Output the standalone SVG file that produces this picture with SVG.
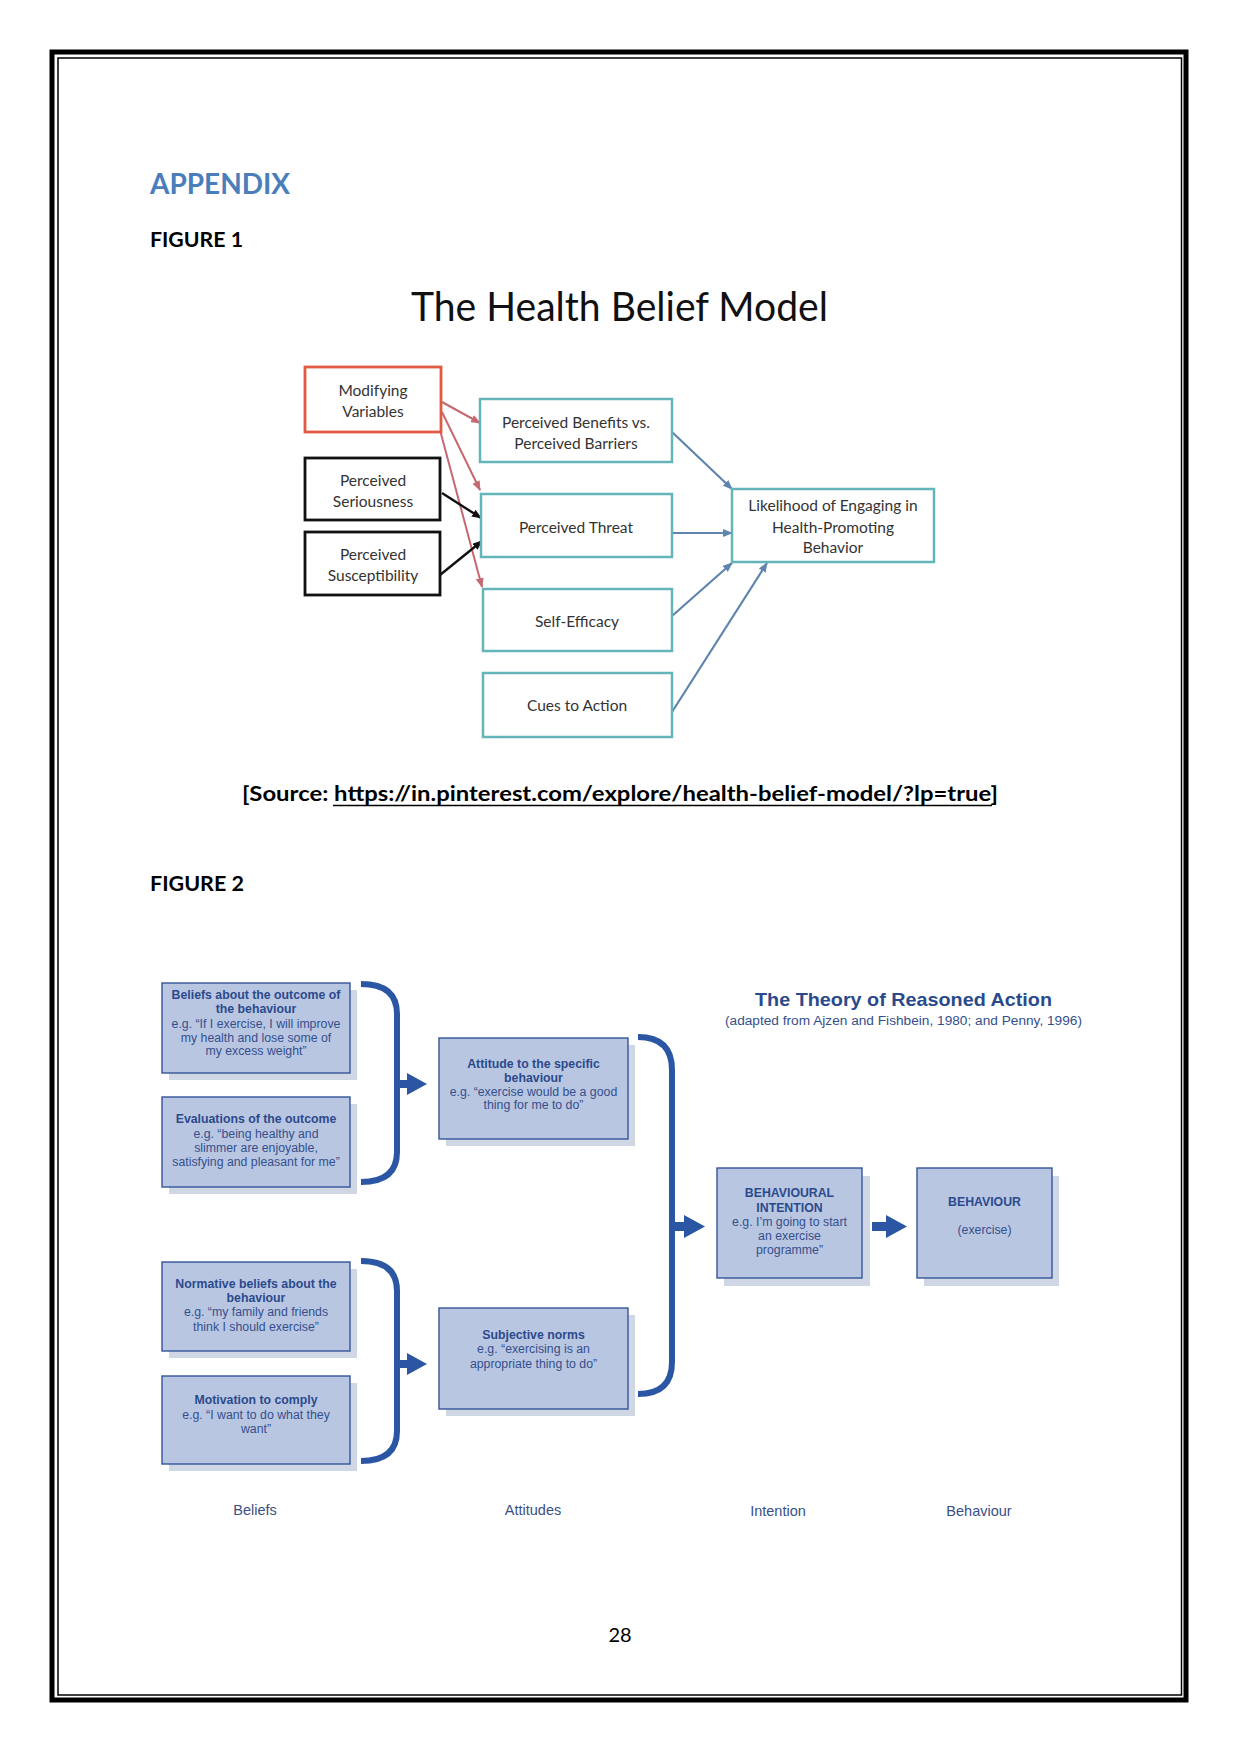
<svg xmlns="http://www.w3.org/2000/svg" width="1241" height="1754" viewBox="0 0 1241 1754">
<style>
  .doc { font-family: Lato, "Open Sans", "Liberation Sans", sans-serif; fill: #000; }
  .hbm { font-family: Lato, "Open Sans", "Liberation Sans", sans-serif; font-size: 15.5px; fill: #333; text-anchor: middle; }
  .teal { fill: #fff; stroke: #64b5ba; stroke-width: 2.5; }
  .blk { fill: #fff; stroke: #111; stroke-width: 2.8; }
  .red { fill: #fff; stroke: #e05a44; stroke-width: 2.8; }
  .tra { font-family: "Liberation Sans", Arial, sans-serif; font-size: 12.3px; fill: #34508c; text-anchor: middle; }
  .tra .b { font-weight: bold; fill: #2b4a8c; }
  .box { fill: #b9c6e2; stroke: #34549a; stroke-width: 1.4; }
  .shadow { fill: #cfd6e4; }
  .brk { fill: none; stroke: #2a56a3; stroke-width: 6; }
  .barrow { fill: #2a56a3; }
  .lbl { font-family: "Liberation Sans", Arial, sans-serif; font-size: 14.5px; fill: #3a4f85; text-anchor: middle; }
</style>
<defs>
  <marker id="mr" markerUnits="userSpaceOnUse" markerWidth="10" markerHeight="8" refX="9" refY="4" orient="auto"><path d="M0,0 L10,4 L0,8 Z" fill="#c66870"/></marker>
  <marker id="mk" markerUnits="userSpaceOnUse" markerWidth="10" markerHeight="8" refX="9" refY="4" orient="auto"><path d="M0,0 L10,4 L0,8 Z" fill="#111"/></marker>
  <marker id="mb" markerUnits="userSpaceOnUse" markerWidth="10" markerHeight="8" refX="9" refY="4" orient="auto"><path d="M0,0 L10,4 L0,8 Z" fill="#5f84ad"/></marker>
</defs>
<rect x="0" y="0" width="1241" height="1754" fill="#fff"/>
<!-- page border -->
<rect x="52" y="52" width="1134" height="1648" fill="none" stroke="#000" stroke-width="5"/>
<rect x="58" y="58" width="1123.5" height="1637" fill="none" stroke="#000" stroke-width="1.5"/>

<text class="doc" x="150" y="194" font-size="29" font-weight="bold" style="fill:#4a7ebb" textLength="140" lengthAdjust="spacingAndGlyphs">APPENDIX</text>
<text class="doc" x="150" y="247" font-size="20" font-weight="bold" textLength="93" lengthAdjust="spacingAndGlyphs">FIGURE 1</text>

<!-- Health Belief Model -->
<text class="doc" x="411" y="321" font-size="40" style="fill:#111" textLength="417" lengthAdjust="spacingAndGlyphs">The Health Belief Model</text>

<g id="connectors-hbm">
  <line x1="442" y1="402" x2="480" y2="423" stroke="#c66870" stroke-width="2" marker-end="url(#mr)"/>
  <line x1="442" y1="412" x2="480" y2="490" stroke="#c66870" stroke-width="2" marker-end="url(#mr)"/>
  <line x1="440" y1="430" x2="482" y2="587" stroke="#c66870" stroke-width="2" marker-end="url(#mr)"/>
  <line x1="442" y1="493" x2="481" y2="518" stroke="#111" stroke-width="2.4" marker-end="url(#mk)"/>
  <line x1="440" y1="575" x2="482" y2="541" stroke="#111" stroke-width="2.4" marker-end="url(#mk)"/>
  <line x1="672" y1="432" x2="732" y2="489" stroke="#5f84ad" stroke-width="2.2" marker-end="url(#mb)"/>
  <line x1="672" y1="533" x2="732" y2="533" stroke="#5f84ad" stroke-width="2.2" marker-end="url(#mb)"/>
  <line x1="672" y1="616" x2="732" y2="563" stroke="#5f84ad" stroke-width="2.2" marker-end="url(#mb)"/>
  <line x1="672" y1="712" x2="767" y2="563" stroke="#5f84ad" stroke-width="2.2" marker-end="url(#mb)"/>
</g>

<g id="modifying">
  <rect class="red" x="305" y="367" width="136" height="65"/>
  <text class="hbm" x="373" y="396">Modifying</text>
  <text class="hbm" x="373" y="417">Variables</text>
</g>
<g id="seriousness">
  <rect class="blk" x="305" y="458" width="135" height="62"/>
  <text class="hbm" x="373" y="486">Perceived</text>
  <text class="hbm" x="373" y="507">Seriousness</text>
</g>
<g id="susceptibility">
  <rect class="blk" x="305" y="532" width="135" height="63"/>
  <text class="hbm" x="373" y="560">Perceived</text>
  <text class="hbm" x="373" y="581">Susceptibility</text>
</g>
<g id="benefits">
  <rect class="teal" x="480" y="399" width="192" height="63"/>
  <text class="hbm" x="576" y="428">Perceived Benefits vs.</text>
  <text class="hbm" x="576" y="449">Perceived Barriers</text>
</g>
<g id="threat">
  <rect class="teal" x="481" y="494" width="191" height="63"/>
  <text class="hbm" x="576" y="533">Perceived Threat</text>
</g>
<g id="selfefficacy">
  <rect class="teal" x="483" y="589" width="189" height="62"/>
  <text class="hbm" x="577" y="627">Self-Efficacy</text>
</g>
<g id="cues">
  <rect class="teal" x="483" y="673" width="189" height="64"/>
  <text class="hbm" x="577" y="711">Cues to Action</text>
</g>
<g id="likelihood">
  <rect class="teal" x="732" y="489" width="202" height="73"/>
  <text class="hbm" x="833" y="511">Likelihood of Engaging in</text>
  <text class="hbm" x="833" y="533">Health-Promoting</text>
  <text class="hbm" x="833" y="553">Behavior</text>
</g>

<text class="doc" x="242" y="801" font-size="21" font-weight="bold" textLength="756" lengthAdjust="spacingAndGlyphs">[Source: https://in.pinterest.com/explore/health-belief-model/?lp=true]</text>
<line x1="333" y1="805.5" x2="992" y2="805.5" stroke="#000" stroke-width="1.5"/>

<text class="doc" x="150" y="891" font-size="20" font-weight="bold" textLength="94" lengthAdjust="spacingAndGlyphs">FIGURE 2</text>

<!-- Theory of Reasoned Action -->
<text x="755" y="1006" font-family="Liberation Sans, Arial, sans-serif" font-size="19" font-weight="bold" fill="#2b4a8c" textLength="297" lengthAdjust="spacingAndGlyphs">The Theory of Reasoned Action</text>
<text x="725" y="1025" font-family="Liberation Sans, Arial, sans-serif" font-size="12.5" fill="#34508c" textLength="357" lengthAdjust="spacingAndGlyphs">(adapted from Ajzen and Fishbein, 1980; and Penny, 1996)</text>

<g id="connectors-tra">
  <path class="brk" d="M361 984 Q397 984 397 1014 L397 1152 Q397 1182 361 1182"/>
  <path class="barrow" d="M397 1080 L407 1080 L407 1073 L427 1084 L407 1095 L407 1088 L397 1088 Z"/>
  <path class="brk" d="M361 1261 Q397 1261 397 1291 L397 1431 Q397 1461 361 1461"/>
  <path class="barrow" d="M397 1360 L407 1360 L407 1353 L427 1364 L407 1375 L407 1368 L397 1368 Z"/>
  <path class="brk" d="M638 1037 Q672 1037 672 1070 L672 1362 Q672 1394 638 1394"/>
  <path class="barrow" d="M672 1222 L684 1222 L684 1215 L705 1226.5 L684 1238 L684 1231 L672 1231 Z"/>
  <path class="barrow" d="M872 1222 L886 1222 L886 1215 L907 1226.5 L886 1238 L886 1231 L872 1231 Z"/>
</g>

<g id="beliefs-outcome" class="tra">
  <rect class="shadow" x="169" y="990" width="188" height="90"/>
  <rect class="box" x="162" y="983" width="188" height="90"/>
  <text class="b" x="256" y="999">Beliefs about the outcome of</text>
  <text class="b" x="256" y="1013">the behaviour</text>
  <text x="256" y="1028">e.g. “If I exercise, I will improve</text>
  <text x="256" y="1042">my health and lose some of</text>
  <text x="256" y="1055">my excess weight”</text>
</g>
<g id="evaluations" class="tra">
  <rect class="shadow" x="169" y="1104" width="188" height="90"/>
  <rect class="box" x="162" y="1097" width="188" height="90"/>
  <text class="b" x="256" y="1123">Evaluations of the outcome</text>
  <text x="256" y="1138">e.g. “being healthy and</text>
  <text x="256" y="1152">slimmer are enjoyable,</text>
  <text x="256" y="1166">satisfying and pleasant for me”</text>
</g>
<g id="normative" class="tra">
  <rect class="shadow" x="169" y="1269" width="188" height="89"/>
  <rect class="box" x="162" y="1262" width="188" height="89"/>
  <text class="b" x="256" y="1288">Normative beliefs about the</text>
  <text class="b" x="256" y="1302">behaviour</text>
  <text x="256" y="1316">e.g. “my family and friends</text>
  <text x="256" y="1331">think I should exercise”</text>
</g>
<g id="motivation" class="tra">
  <rect class="shadow" x="169" y="1383" width="188" height="88"/>
  <rect class="box" x="162" y="1376" width="188" height="88"/>
  <text class="b" x="256" y="1404">Motivation to comply</text>
  <text x="256" y="1419">e.g. “I want to do what they</text>
  <text x="256" y="1433">want”</text>
</g>
<g id="attitude" class="tra">
  <rect class="shadow" x="446" y="1045" width="189" height="101"/>
  <rect class="box" x="439" y="1038" width="189" height="101"/>
  <text class="b" x="533.5" y="1068">Attitude to the specific</text>
  <text class="b" x="533.5" y="1082">behaviour</text>
  <text x="533.5" y="1096">e.g. “exercise would be a good</text>
  <text x="533.5" y="1109">thing for me to do”</text>
</g>
<g id="subjective" class="tra">
  <rect class="shadow" x="446" y="1315" width="189" height="101"/>
  <rect class="box" x="439" y="1308" width="189" height="101"/>
  <text class="b" x="533.5" y="1339">Subjective norms</text>
  <text x="533.5" y="1353">e.g. “exercising is an</text>
  <text x="533.5" y="1368">appropriate thing to do”</text>
</g>
<g id="intention" class="tra">
  <rect class="shadow" x="724" y="1176" width="146" height="110"/>
  <rect class="box" x="717" y="1168" width="145" height="110"/>
  <text class="b" x="789.5" y="1197">BEHAVIOURAL</text>
  <text class="b" x="789.5" y="1212">INTENTION</text>
  <text x="789.5" y="1226">e.g. I’m going to start</text>
  <text x="789.5" y="1240">an exercise</text>
  <text x="789.5" y="1254">programme”</text>
</g>
<g id="behaviour" class="tra">
  <rect class="shadow" x="924" y="1176" width="135" height="110"/>
  <rect class="box" x="917" y="1168" width="135" height="110"/>
  <text class="b" x="984.5" y="1206">BEHAVIOUR</text>
  <text x="984.5" y="1234">(exercise)</text>
</g>

<text class="lbl" x="255" y="1515">Beliefs</text>
<text class="lbl" x="533" y="1515">Attitudes</text>
<text class="lbl" x="778" y="1516">Intention</text>
<text class="lbl" x="979" y="1516">Behaviour</text>

<text class="doc" x="620" y="1642" font-size="20" text-anchor="middle">28</text>
</svg>
